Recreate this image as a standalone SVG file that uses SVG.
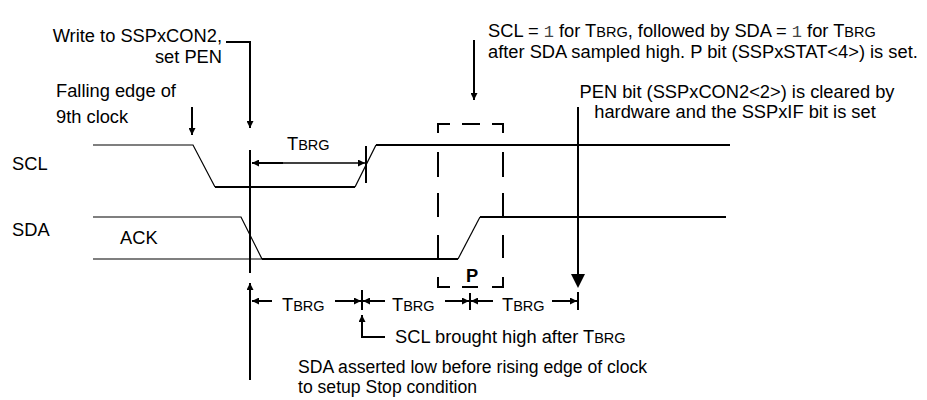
<svg xmlns="http://www.w3.org/2000/svg" width="927" height="400" viewBox="0 0 927 400">
<defs>
<marker id="ah" markerUnits="userSpaceOnUse" markerWidth="8" markerHeight="7" refX="7" refY="3.5" orient="auto-start-reverse">
<path d="M0,0 L7,3.5 L0,7 z" fill="#000"/>
</marker>
</defs>
<style>
text{font-family:"Liberation Sans",Arial,sans-serif;font-size:18.3px;fill:#000}
.sc{font-size:14.5px}
.mono{font-family:"Liberation Mono","Courier New",monospace;font-size:17px;fill:#444}
.thick{fill:none;stroke:#000;stroke-width:2}
.thin{fill:none;stroke:#000;stroke-width:1.2}
.arr{fill:none;stroke:#000;stroke-width:2;marker-end:url(#ah)}
.tick{fill:none;stroke:#000;stroke-width:2}
.dash{fill:none;stroke:#000;stroke-width:2}
</style>
<rect width="927" height="400" fill="#fff"/>
<g id="scl">
<path class="thin" d="M93,145 L193,145 L215,187"/>
<path class="thick" d="M215,187 L355,187"/>
<path class="thin" d="M355,187 L376,145"/>
<path class="thick" d="M376,145 L730,145"/>
<text x="12" y="170">SCL</text>
</g>
<g id="sda">
<path class="thin" d="M93,217 L241,217 L262,259"/>
<path class="thin" d="M93,259 L285,259"/>
<path class="thick" d="M262,259 L458,259"/>
<path class="thin" d="M458,259 L480,217"/>
<path class="thick" d="M480,217 L726,217"/>
<text x="12" y="236">SDA</text>
<text x="120" y="244">ACK</text>
</g>
<g id="stop-box">
<path class="dash" d="M438,133 L438,124 L450,124 M462,124 L480,124 M492,124 L503,124 L503,133 M438,152 L438,177 M438,193 L438,217 M438,235 L438,258 M438,277 L438,287 L450,287 M503,152 L503,177 M503,193 L503,217 M503,235 L503,258 M503,277 L503,287 L492,287 M462,287 L478,287"/>
<text x="472" y="282" text-anchor="middle" font-weight="bold" font-size="16">P</text>
</g>
<g id="connectors">
<path class="arr" d="M226,42 L250,42 L250,128"/>
<path class="arr" d="M192,107 L192,135"/>
<path class="arr" d="M474,40 L474,100"/>
<path class="thick" d="M578,107 L578,276"/>
<polygon points="571,274 585,274 578,288" fill="#000"/>
<path class="tick" d="M578,292 L578,310"/>
<path class="thick" d="M250,150 L250,273"/>
<path class="arr" d="M250,380 L250,283"/>
<path class="arr" d="M283,163 L252,163"/>
<path class="arr" d="M283,163 L365,163" style="stroke-width:1.5"/>
<path class="tick" d="M366,146 L366,183"/>
<path class="arr" d="M272,301 L252,301"/>
<path class="arr" d="M335,301 L361,301"/>
<path class="tick" d="M362,290 L362,310"/>
<path class="arr" d="M385,301 L363,301"/>
<path class="arr" d="M445,301 L469,301"/>
<path class="tick" d="M470,293 L470,310"/>
<path class="arr" d="M493,301 L471,301"/>
<path class="arr" d="M552,301 L577,301"/>
<path class="arr" d="M385,337 L362,337 L362,315"/>
</g>
<g id="labels">
<text x="222" y="42" text-anchor="end">Write to SSPxCON2,</text>
<text x="222" y="63" text-anchor="end">set PEN</text>
<text x="56" y="97">Falling edge of</text>
<text x="56" y="123">9th clock</text>
<text x="287" y="150">T<tspan class="sc">BRG</tspan></text>
<text x="488" y="37">SCL = <tspan class="mono">1</tspan> for T<tspan class="sc">BRG</tspan>, followed by SDA = <tspan class="mono">1</tspan> for T<tspan class="sc">BRG</tspan></text>
<text x="488" y="58">after SDA sampled high. P bit (SSPxSTAT&lt;4&gt;) is set.</text>
<text x="737" y="98" text-anchor="middle">PEN bit (SSPxCON2&lt;2&gt;) is cleared by</text>
<text x="735" y="118" text-anchor="middle">hardware and the SSPxIF bit is set</text>
<text x="282" y="311">T<tspan class="sc">BRG</tspan></text>
<text x="392" y="311">T<tspan class="sc">BRG</tspan></text>
<text x="502" y="311">T<tspan class="sc">BRG</tspan></text>
<text x="395" y="343">SCL brought high after T<tspan class="sc">BRG</tspan></text>
<text x="298" y="373" style="font-size:17.6px">SDA asserted low before rising edge of clock</text>
<text x="298" y="393" style="font-size:17.6px">to setup Stop condition</text>
</g>
</svg>
